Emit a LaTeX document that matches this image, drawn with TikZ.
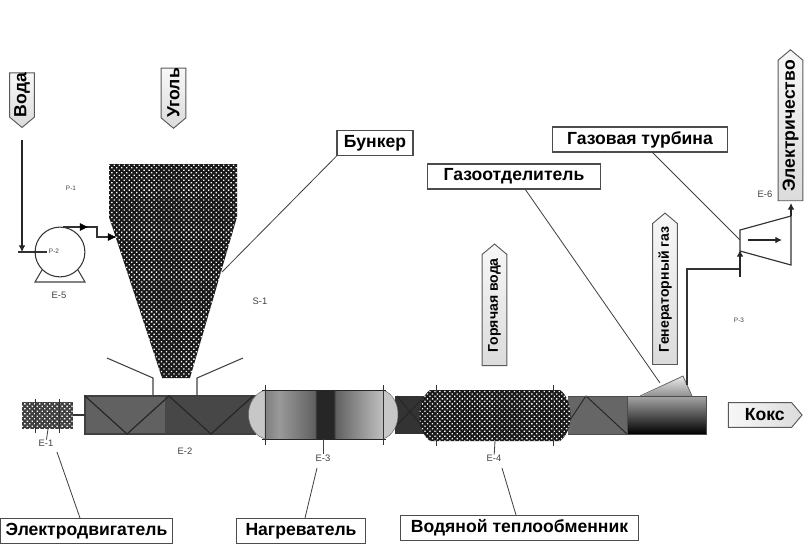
\documentclass[tikz,border=0pt]{standalone}
\usepackage{fontspec}
\setmainfont{Liberation Sans}
\usetikzlibrary{
    arrows.meta,
    patterns.meta,
    shapes.symbols
}
\pgfdeclarehorizontalshading{heaterfill}{100bp}{
    color(0bp)=(black!50);
    color(25bp)=(black!50);
    color(31bp)=(black!40);
    color(38bp)=(black!50);
    color(46bp)=(black!62);
    color(47bp)=(black!85);
    color(54bp)=(black!85);
    color(55bp)=(black!62);
    color(64bp)=(black!45);
    color(75bp)=(black!25);
    color(100bp)=(black!25)
}
\tikzset{
    labelbox/.style={draw=black!70, fill=white, line width=1.2pt, font=\fontsize{15}{17}\selectfont\bfseries, inner sep=0pt, minimum height=25*0.85pt},
    tagbox/.style={shape=signal, draw=black!65, line width=0.8pt, left color=black!3, right color=black!14, shading angle=0,
        font=\fontsize{15}{17}\selectfont\bfseries, inner sep=0pt, signal pointer angle=100, minimum height=25*0.85pt},
    tinylabel/.style={font=\fontsize{8}{9}\selectfont, text=black!75, inner sep=0pt},
    microlabel/.style={font=\fontsize{5.5}{6}\selectfont, text=black!75, inner sep=0pt},
    leader/.style={draw=black!75, line width=0.7pt},
    pipeline/.style={draw=black!80, line width=0.9pt},
    flowarrow/.style={-{Latex[length=2mm, width=2mm]}, draw=black!85, line width=0.9pt},
    midhead/.style={draw=black, fill=black},
    tick/.style={draw=black!80, line width=0.7pt},
    coalfill/.style={fill=black!90, postaction={pattern={Dots[radius=0.8pt, distance=3pt, angle=45]}, pattern color=white}}
}
\begin{document}
\begin{tikzpicture}[x=0.03cm, y=-0.03cm]
    \useasboundingbox (0,0) rectangle (809,548);
    % hopper
    \path[coalfill] (109,164) -- (237,164) -- (237,217) -- (190,378) -- (162,378) -- (109,217) -- cycle;
    \draw[leader, line width=0.9pt] (107,358) -- (153,378) -- (153,396);
    \draw[leader, line width=0.9pt] (243,358) -- (197,378) -- (197,396);
    % screw barrel
    \fill[black!62] (85,396) rectangle (165,434);
    \fill[black!72] (165,396) rectangle (255,434);
    \fill[black!80] (395,396) rectangle (425,434);
    \fill[black!60] (568,396) rectangle (627,434);
    \draw[draw=black!75, line width=0.9pt] (85,396) rectangle (255,434);
    \draw[draw=black!85, line width=1pt] (85,396) -- (127,434) -- (169,396) -- (211,434) -- (253,396);
    \draw[draw=black!85, line width=0.8pt] (397,425) -- (425,396) (397,396) -- (425,430);
    \draw[draw=black!85, line width=0.8pt] (570,420) -- (586,396) -- (627,434);
    \draw[draw=black!70, line width=0.8pt] (568,396) -- (627,396) (568,434) -- (627,434);
    % coke end
    \shade[top color=black!8, bottom color=black!45] (640,397) -- (683,376) -- (692,397) -- cycle;
    \shade[top color=black!35, bottom color=black, draw=black!70] (627,396) rectangle (706,434);
    \draw[draw=black!60, line width=0.7pt] (640,396) -- (683,376) -- (692,396);
    % motor
    \path[fill=black!75, postaction={pattern={Dots[radius=0.8pt, distance=3pt, angle=45]}, pattern color=white}] (22,402) rectangle (73,429);
    \draw[tick] (35,399) -- (35,433) (59,399) -- (59,433);
    \draw[pipeline] (73,415) -- (85,415);
    % heater
    \fill[black!22, draw=black!60] (265,390) .. controls (243,397) and (243,432) .. (265,439) -- cycle;
    \fill[black!22, draw=black!60] (383,390) .. controls (403,397) and (403,432) .. (383,439) -- cycle;
    \shade[shading=heaterfill] (265,390) rectangle (383,439);
    \draw[draw=black!85, line width=0.8pt] (262,390) -- (386,390) (262,439) -- (386,439);
    \draw[tick] (265,385) -- (265,445) (383,385) -- (383,445);
    % water heat exchanger
    \path[coalfill] (430,390) -- (560,390) .. controls (574,400) and (574,431) .. (560,441) -- (430,441) .. controls (416,431) and (416,400) .. (430,390) -- cycle;
    \draw[tick] (436,385) -- (436,446) (553,385) -- (553,446);
    % pump
    \coordinate (pumpin) at (47,252);
    \coordinate (pumpout) at (63,227);
    \node[circle, draw=black!80, line width=0.9pt, minimum size=50*0.85pt, inner sep=0pt] (pump) at (60,252) {};
    \draw[leader, line width=0.9pt] (42,270) -- (35,282) -- (85,282) -- (78,270);
    \coordinate (waterstart) at (22,140);
    \coordinate (waterend) at (22,252);
    \draw[flowarrow] (waterstart) -- (waterend);
    \draw[pipeline] (18,252) -- (pumpin);
    \draw[pipeline] (pumpout) -- (97,227) -- (97,237) -- (115,237);
    \fill[midhead] (87,227) -- (80,223.5) -- (80,230.5) -- cycle;
    \fill[midhead] (115,237) -- (108,233.5) -- (108,240.5) -- cycle;
    % gas line and turbine
    \draw[pipeline, line width=1.3pt] (687,385) -- (687,269) -- (740,269);
    \draw[flowarrow] (740,277) -- (740,250);
    \draw[draw=black!80, line width=1pt] (740,230) -- (791,216) -- (791,265) -- (740,251) -- cycle;
    \draw[flowarrow] (748,240) -- (782,240);
    \draw[flowarrow] (791,216) -- (791,203);
    % boxes
    \node[labelbox, minimum width=76*0.85pt] (bunkerbox) at (375,143) {Бункер};
    \node[labelbox, minimum width=176*0.85pt] (turbinebox) at (640,139.5) {Газовая турбина};
    \node[labelbox, minimum width=174*0.85pt] (separatorbox) at (514,176.5) {Газоотделитель};
    \node[labelbox, minimum width=173*0.85pt] (motorbox) at (86.5,531) {Электродвигатель};
    \node[labelbox, minimum width=130*0.85pt] (heaterbox) at (301,531) {Нагреватель};
    \node[labelbox, minimum width=239*0.85pt] (exchangerbox) at (519.5,528) {Водяной теплообменник};
    % tags
    \node[tagbox, signal to=west, rotate=90, minimum width=52*0.85pt] (watertag) at (22,95) {Вода};
    \node[tagbox, signal to=west, rotate=90, minimum width=54*0.85pt] (coaltag) at (173.5,93) {Уголь};
    \node[tagbox, signal to=east, rotate=90, minimum width=122*0.85pt, font=\fontsize{12}{14}\selectfont\bfseries] (hotwatertag) at (494.5,310) {\hspace{8pt}Горячая вода};
    \node[tagbox, signal to=east, rotate=90, minimum width=152*0.85pt, font=\fontsize{12}{14}\selectfont\bfseries] (gastag) at (665,294) {\hspace{8pt}Генераторный газ};
    \node[tagbox, signal to=east, rotate=90, minimum width=143*0.85pt] (powertag) at (790.5,130.5) {\hspace{8pt}Электричество};
    \node[tagbox, signal to=east, minimum width=74*0.85pt, shading angle=90] (coketag) at (760,415) {\hspace{8pt}Кокс};
    % small labels
    \node[microlabel] (ponelab) at (71,188) {P-1};
    \node[microlabel] (ptwolab) at (54,251) {P-2};
    \node[microlabel] (pthreelab) at (739,320) {P-3};
    \node[tinylabel] (eonelab) at (46,443) {E-1};
    \node[tinylabel] (etwolab) at (185,451) {E-2};
    \node[tinylabel] (ethreelab) at (323,458) {E-3};
    \node[tinylabel] (efourlab) at (494,458) {E-4};
    \node[tinylabel] (efivelab) at (59,295) {E-5};
    \node[tinylabel] (esixlab) at (765,194) {E-6};
    \node[tinylabel] (sonelab) at (260,301) {S-1};
    % leaders
    \coordinate (hopperside) at (222,272);
    \coordinate (hump) at (660,383);
    \coordinate (turbineside) at (740,240);
    \draw[leader] (bunkerbox.south west) -- (hopperside);
    \draw[leader] (652,152) -- (turbineside);
    \draw[leader] (525,189) -- (hump);
    \draw[leader] (48,429) -- (eonelab);
    \draw[leader] (57,452) -- (80,518);
    \draw[leader] (323,439) -- (ethreelab);
    \draw[leader] (317,468) -- (305,518);
    \draw[leader] (495,441) -- (efourlab);
    \draw[leader] (502,468) -- (516,515);
\end{tikzpicture}
\end{document}
